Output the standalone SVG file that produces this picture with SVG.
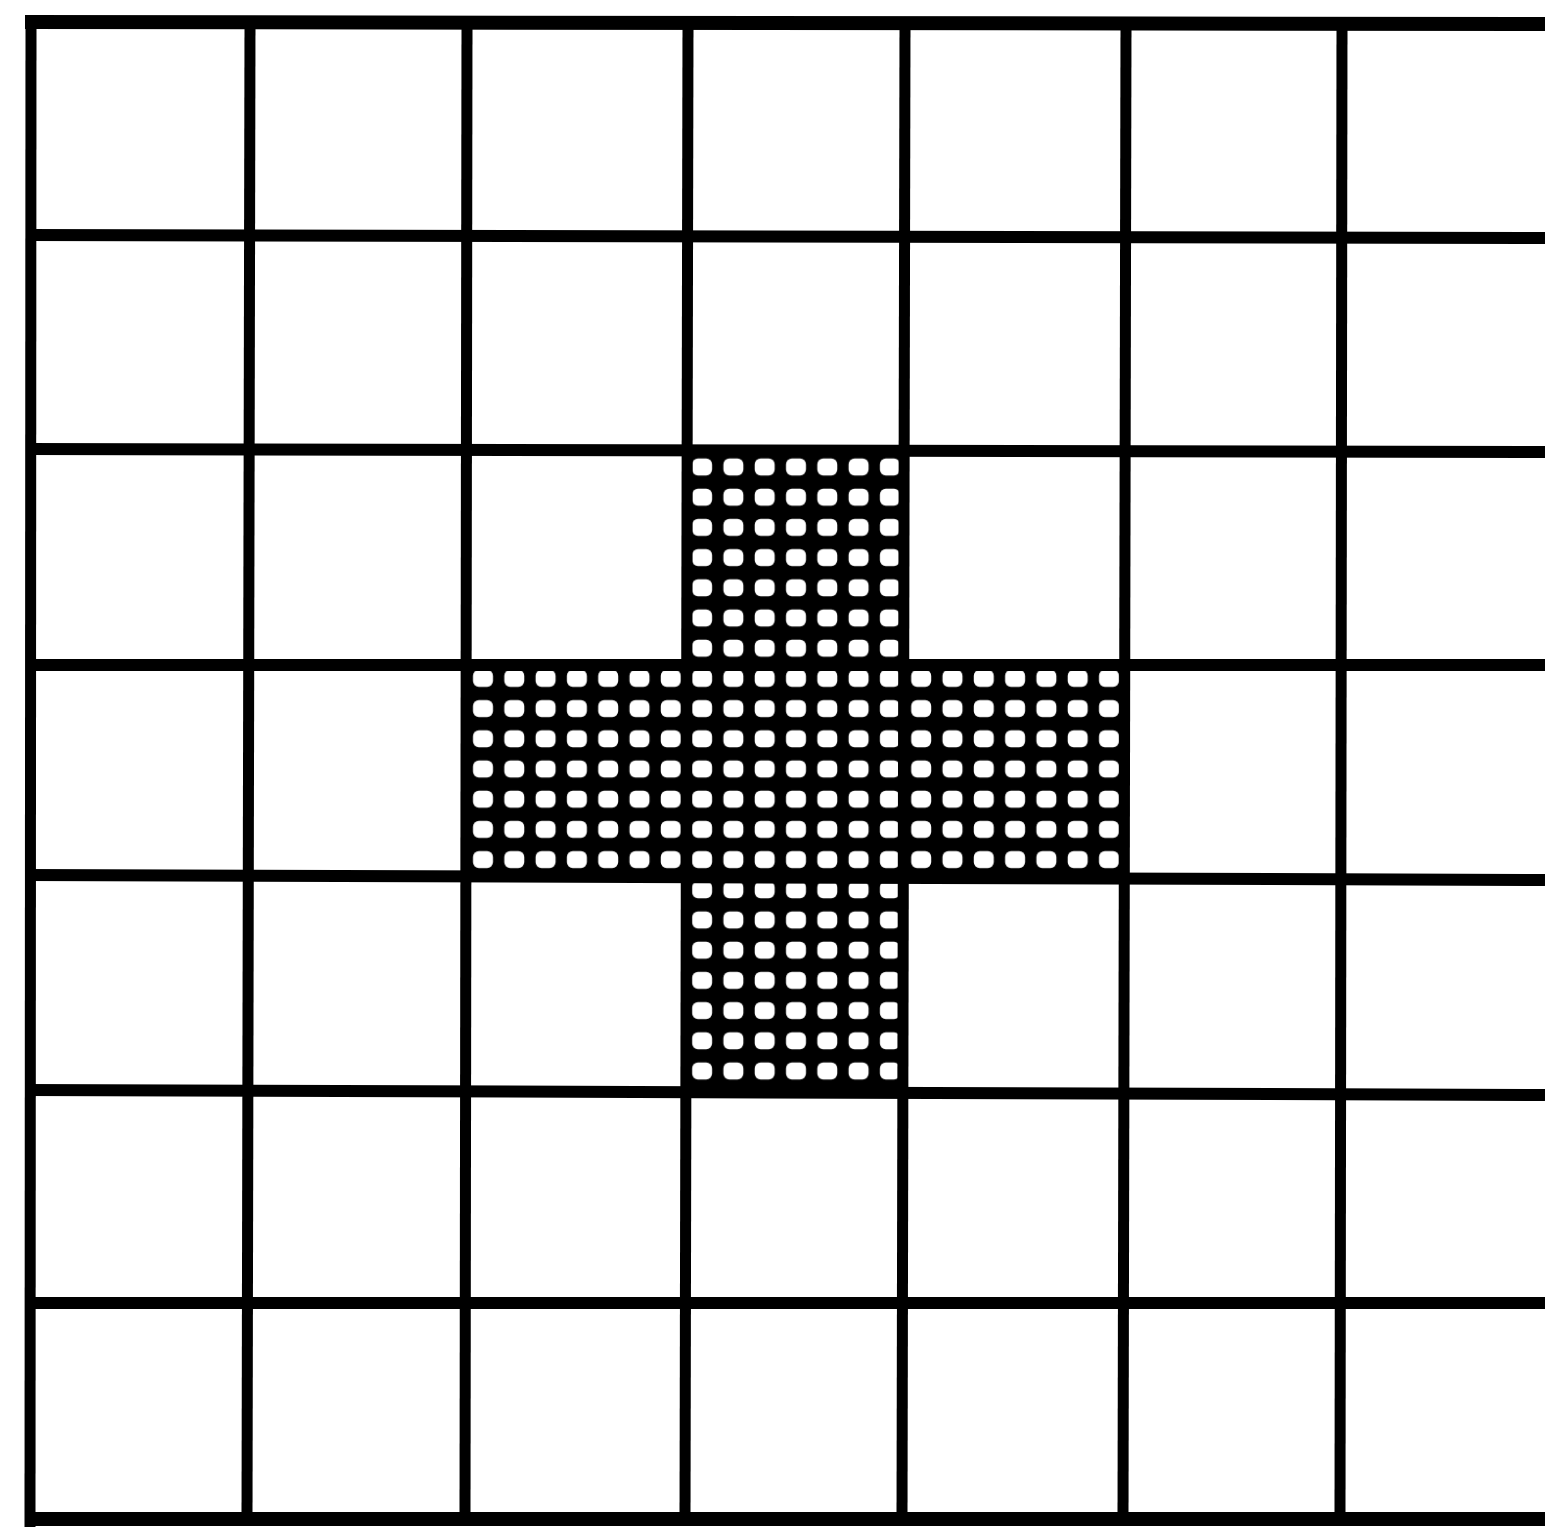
<svg xmlns="http://www.w3.org/2000/svg" width="1545" height="1532" viewBox="0 0 1545 1532">
<style>
.h{stroke:#000;stroke-width:12;fill:none}
.v{stroke:#000;stroke-width:11;fill:none}
.b{stroke:#000;stroke-width:14;fill:none}
</style>
<defs>
<pattern id="dots" patternUnits="userSpaceOnUse" x="467.35" y="451.9" width="31.3" height="30.2">
<rect x="0" y="0" width="31.3" height="30.2" fill="#000"/>
<rect x="5.65" y="6.6" width="20" height="17" rx="6" ry="6" fill="#fff"/>
</pattern>
</defs>
<rect x="0" y="0" width="1545" height="1532" fill="#fff"/>
<g id="plus">
<polygon points="688,449 905,449 905,665 1126,665 1126,878 905,878 905,1093 688,1093 688,878 466,878 466,665 688,665" fill="url(#dots)"/>
</g>
<g id="grid">
<line class="b" x1="25" y1="22" x2="1545" y2="24"/>
<line class="h" x1="26" y1="235" x2="1545" y2="238"/>
<line class="h" x1="26" y1="449" x2="1545" y2="452"/>
<line class="h" x1="26" y1="665" x2="1545" y2="665"/>
<line class="h" x1="26" y1="875" x2="1545" y2="880"/>
<line class="h" x1="26" y1="1090" x2="1545" y2="1095"/>
<line class="h" x1="26" y1="1303" x2="1545" y2="1303"/>
<line class="b" x1="25" y1="1519" x2="1545" y2="1519"/>
<line class="v" x1="31" y1="16" x2="30" y2="1527"/>
<line class="v" x1="250" y1="22" x2="247" y2="1519"/>
<line class="v" x1="467" y1="22" x2="465" y2="1519"/>
<line class="v" x1="688" y1="22" x2="685" y2="1519"/>
<line class="v" x1="905" y1="22" x2="902" y2="1519"/>
<line class="v" x1="1126" y1="22" x2="1123" y2="1519"/>
<line class="v" x1="1342" y1="22" x2="1340" y2="1519"/>
</g>
</svg>
